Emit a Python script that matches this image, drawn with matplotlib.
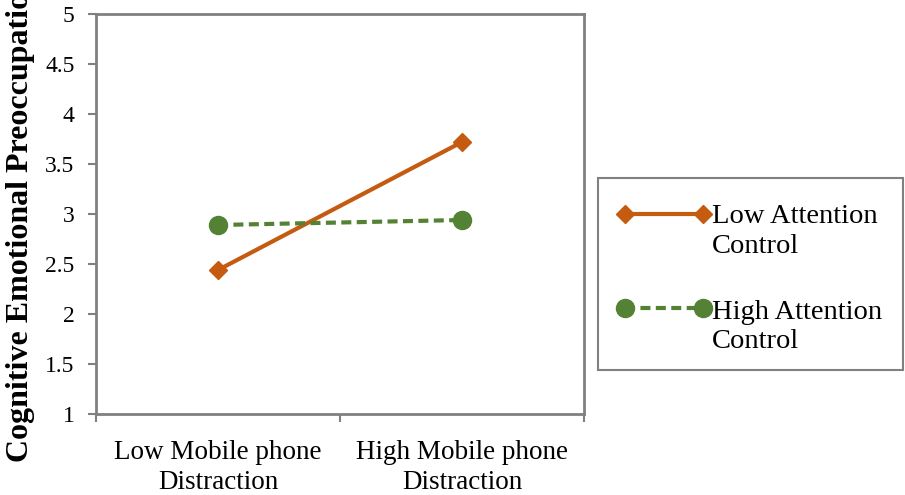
import matplotlib
matplotlib.use("Agg")
import matplotlib.pyplot as plt
from matplotlib.lines import Line2D
from matplotlib.patches import Rectangle

categories = ["Low Mobile phone\nDistraction", "High Mobile phone\nDistraction"]
series_names = ["Low Attention\nControl", "High Attention\nControl"]
low_attention = [2.44, 3.72]
high_attention = [2.89, 2.94]
y_ticks = [1, 1.5, 2, 2.5, 3, 3.5, 4, 4.5, 5]
y_label = "Cognitive Emotional Preoccupation"

orange = "#C55A11"
green = "#548235"
spine_gray = "#808080"

W, H = 905, 495
plt.rcParams["font.family"] = ["Liberation Serif", "DejaVu Serif"]

fig = plt.figure(figsize=(W / 100, H / 100), dpi=100)
ax = fig.add_axes([96 / W, (H - 414) / H, 488 / W, 400 / H])

def fx(px):
    return px / W

def fy(py):
    return 1 - py / H

xpos = [0.5, 1.5]
styles = [
    dict(color=orange, lw=3.0, ls="-", marker="D", ms=9),
    dict(color=green, lw=3.0, ls=(0, (2.4, 1.3)), marker="o", ms=13),
]
for vals, st in zip([low_attention, high_attention], styles):
    ax.plot(xpos, vals, mec=st["color"], mfc=st["color"], **st)

ax.set_xlim(0, 2)
ax.set_ylim(1, 5)
ax.set_yticks(y_ticks)
ax.set_yticklabels([f"{t:g}" for t in y_ticks])
ax.set_xticks([0, 1, 2])
ax.set_xticklabels([])
ax.set_xticks(xpos, minor=True)
ax.set_xticklabels(categories, minor=True, linespacing=1.22)
ax.tick_params(axis="x", which="minor", length=0, pad=19, labelsize=19.5)
ax.tick_params(axis="x", which="major", length=6, width=1.5, color=spine_gray)
ax.tick_params(axis="y", length=6, width=1.5, color=spine_gray, labelsize=17, pad=9.5)

for s in ax.spines.values():
    s.set_color(spine_gray)
    s.set_linewidth(2.0)

fig.text(fx(21), fy(462), y_label, rotation=90, ha="center", va="bottom",
         fontsize=23, fontweight="bold")

# legend box drawn in figure coordinates
fig.add_artist(Rectangle((fx(598), fy(370)), fx(903) - fx(598), fy(178) - fy(370),
                         transform=fig.transFigure, fill=False,
                         edgecolor=spine_gray, lw=1.5))
entry_y = [214, 308]
baselines = [(223, 253), (319, 348)]
for name, st, ly, bl in zip(series_names, styles, entry_y, baselines):
    fig.add_artist(Line2D([fx(625), fx(703)], [fy(ly), fy(ly)],
                          transform=fig.transFigure, mec=st["color"],
                          mfc=st["color"], **st))
    for line, b in zip(name.split("\n"), bl):
        fig.text(fx(712), fy(b), line, ha="left", va="baseline", fontsize=20.5)

fig.savefig("out.png", dpi=100)
